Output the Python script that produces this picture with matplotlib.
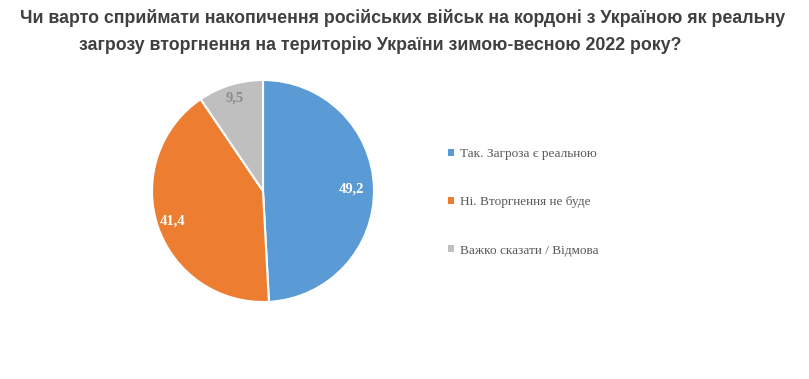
import numpy as np
import matplotlib
matplotlib.use("Agg")
import matplotlib.pyplot as plt

labels = ["Так. Загроза є реальною", "Ні. Вторгнення не буде", "Важко сказати / Відмова"]
values = [49.2, 41.4, 9.5]
value_text = ["49,2", "41,4", "9,5"]
colors = ["#5B9BD5", "#ED7D31", "#BFBFBF"]
text_colors = ["white", "white", "#8C8C8C"]
label_dist = [0.8, 0.86, 0.88]

title1 = "Чи варто сприймати накопичення російських військ на кордоні з Україною як реальну"
title2 = "загрозу вторгнення на територію України зимою-весною 2022 року?"

W, H = 809, 379
fig = plt.figure(figsize=(W / 100, H / 100), dpi=100)

# pie axes: centre ~ (263, 191) px, radius ~111 px
cx, cy, r = 263, 191, 111
ax = fig.add_axes([(cx - r) / W, (H - cy - r) / H, 2 * r / W, 2 * r / H])
wedges, _ = ax.pie(values, colors=colors, startangle=90, counterclock=False,
                   radius=1, wedgeprops=dict(edgecolor="white", linewidth=1.5))
ax.set_xlim(-1, 1)
ax.set_ylim(-1, 1)
ax.set_aspect("equal")

for w, txt, col, d in zip(wedges, value_text, text_colors, label_dist):
    ang = np.deg2rad((w.theta1 + w.theta2) / 2)
    ax.text(d * np.cos(ang), d * np.sin(ang), txt, ha="center", va="center",
            color=col, fontsize=10.5, fontweight="bold", family="Liberation Serif")

leg = fig.legend(wedges, labels, loc="upper left",
                 bbox_to_anchor=(448 / W, 1 - 148 / H),
                 frameon=False, handlelength=0.45, handleheight=0.45,
                 handletextpad=0.45, labelspacing=2.75, borderpad=0, borderaxespad=0,
                 prop=dict(family="Liberation Serif", size=9.5))
for t in leg.get_texts():
    t.set_color("#595959")
for h in leg.legend_handles:
    h.set_edgecolor("none")

tfont = dict(family=["Liberation Sans Narrow", "Liberation Sans"], fontweight="bold",
             fontsize=12.8, color="#404040", ha="center", va="center")
fig.text(403 / W, 1 - 18 / H, title1, **tfont)
fig.text(380 / W, 1 - 45 / H, title2, **tfont)

fig.savefig("out.png", dpi=100, facecolor="white")
